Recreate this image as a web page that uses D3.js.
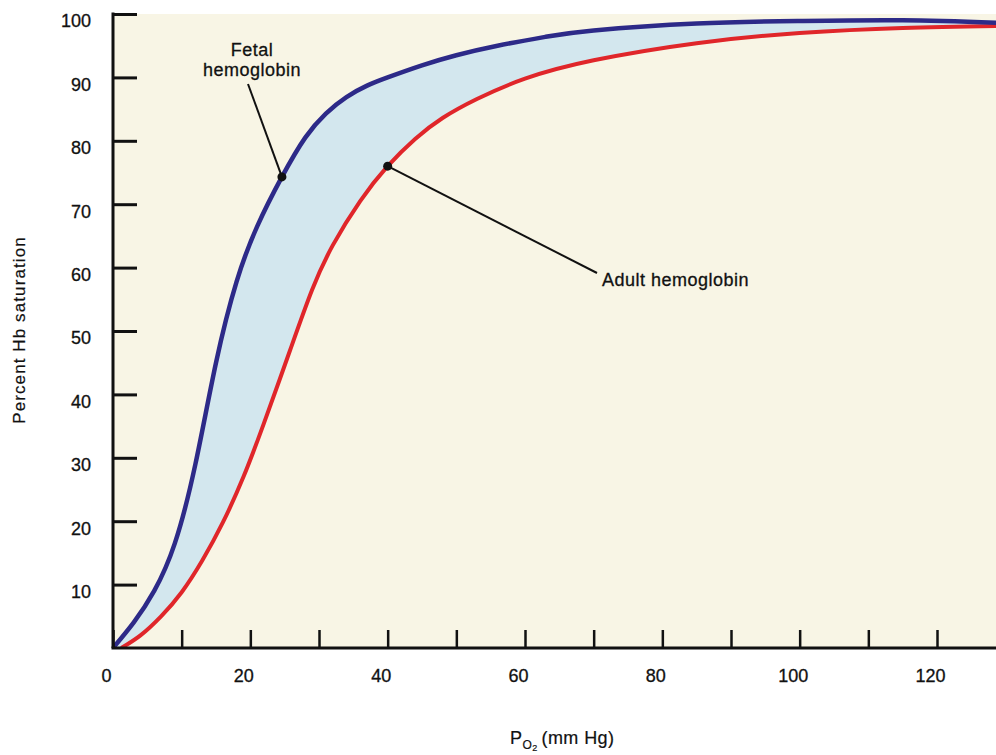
<!DOCTYPE html>
<html>
<head>
<meta charset="utf-8">
<script src="https://d3js.org/d3.v7.min.js"></script>
<style>
  body { margin: 0; background: #fff; }
  text { font-family: "Liberation Sans", Arial, Helvetica, sans-serif; fill: #111; }
</style>
</head>
<body>
<div id="my_dataviz"></div>
<script>

// values: PO2 (mm Hg) and percent saturation
var fetalPO2 = [0, 3, 6, 9, 12, 15, 18, 21, 24.6, 28, 31, 34, 37, 40, 45, 50, 56, 63, 70, 85, 100, 115, 128.7];
var fetalSat = [0, 4, 9, 16.5, 29, 45, 57.8, 66.5, 74.3, 80.5, 84.3, 86.9, 88.7, 90, 91.9, 93.5, 95, 96.4, 97.4, 98.5, 98.9, 99, 98.6];

var adultPO2 = [1.2, 4, 7, 10, 13, 16, 19, 22, 25.8, 29, 32, 36, 40, 44, 48, 53, 60, 70, 85, 100, 115, 128.7];
var adultSat = [0, 2, 5, 8.8, 13.8, 19.8, 27, 35.5, 47, 56.5, 63.5, 70.5, 76, 80.3, 83.6, 86.6, 89.8, 92.7, 95.4, 97, 97.8, 98.1];

var xTicks = [0, 10, 20, 30, 40, 50, 60, 70, 80, 90, 100, 110, 120];
var yTicks = [10, 20, 30, 40, 50, 60, 70, 80, 90, 100];

// labelled points
var fetalMark = {po2: 24.6, sat: 74.3, label: ["Fetal", "hemoglobin"]};
var adultMark = {po2: 40, sat: 76, label: "Adult hemoglobin"};

var width = 996, height = 755;
var bg = "#f8f5e5";

var svg = d3.select("#my_dataviz")
  .append("svg")
    .attr("width", width)
    .attr("height", height);

var x = d3.scaleLinear().domain([0, 120]).range([113, 937]);
var y = d3.scaleLinear().domain([0, 100]).range([648, 14]);

// plot background
svg.append("rect")
    .attr("x", x(0))
    .attr("y", y(100))
    .attr("width", width - x(0))
    .attr("height", y(0) - y(100))
    .style("fill", bg);

svg.append("clipPath").attr("id", "plotclip")
  .append("rect")
    .attr("x", x(0))
    .attr("y", y(100))
    .attr("width", width - x(0))
    .attr("height", y(0) - y(100));

var fetal = fetalPO2.map(function(d, i) { return [d, fetalSat[i]]; });
var adult = adultPO2.map(function(d, i) { return [d, adultSat[i]]; });

var line = d3.line()
    .x(function(d) { return x(d[0]); })
    .y(function(d) { return y(d[1]); })
    .curve(d3.curveNatural);

var area = d3.area()
    .x(function(d) { return x(d[0]); })
    .y0(y(0))
    .y1(function(d) { return y(d[1]); })
    .curve(d3.curveNatural);

var g = svg.append("g").attr("clip-path", "url(#plotclip)");

// band between the two curves: blue under fetal, background under adult
g.append("path")
    .attr("d", area(fetal))
    .style("fill", "#d3e7ee");
g.append("path")
    .attr("d", area(adult))
    .style("fill", bg);

g.append("path")
    .attr("d", line(adult))
    .attr("fill", "none")
    .attr("stroke", "#e0262a")
    .attr("stroke-width", 4);

g.append("path")
    .attr("d", line(fetal))
    .attr("fill", "none")
    .attr("stroke", "#2d2a88")
    .attr("stroke-width", 4.5);

// Y axis
var yAxis = svg.append("g")
    .attr("transform", "translate(" + x(0) + ",0)")
    .call(d3.axisLeft(y).tickValues(yTicks).tickSizeInner(-24).tickSizeOuter(0).tickPadding(22));
yAxis.selectAll("line").attr("stroke", "#111").attr("stroke-width", 3);
yAxis.select(".domain").attr("stroke", "#111").attr("stroke-width", 3)
    .attr("d", "M0," + (y(100) - 1.5) + "V" + y(0));
yAxis.selectAll("text")
    .attr("dy", "0.72em")
    .style("font-size", "18px")
    .style("font-family", "'Liberation Sans', Arial, sans-serif")
    .attr("fill", "#111")
    .attr("stroke", "#111").attr("stroke-width", 0.3);

// X axis
var xAxis = svg.append("g")
    .attr("transform", "translate(0," + y(0) + ")")
    .call(d3.axisBottom(x).tickValues(xTicks).tickSizeInner(-18).tickSizeOuter(0).tickPadding(21)
      .tickFormat(function(d) { return d % 20 === 0 ? d : ""; }));
xAxis.selectAll("line").attr("stroke", "#111").attr("stroke-width", 2.5);
xAxis.select(".domain").attr("stroke", "#111").attr("stroke-width", 3)
    .attr("d", "M" + (x(0) - 1.5) + ",0H" + width);
xAxis.selectAll("text")
    .attr("dx", -7)
    .style("font-size", "18px")
    .style("font-family", "'Liberation Sans', Arial, sans-serif")
    .attr("fill", "#111")
    .attr("stroke", "#111").attr("stroke-width", 0.3);

// axis titles
svg.append("text")
    .attr("transform", "translate(25,330) rotate(-90)")
    .style("text-anchor", "middle")
    .style("font-size", "17px")
    .style("letter-spacing", "1.1px")
    .attr("stroke", "#111").attr("stroke-width", 0.2)
    .text("Percent Hb saturation");

var xt = svg.append("text")
    .attr("x", 510)
    .attr("y", 744)
    .style("font-size", "18px")
    .style("letter-spacing", "0.4px")
    .attr("stroke", "#111").attr("stroke-width", 0.2);
xt.append("tspan").text("P");
xt.append("tspan").attr("dy", 5).style("font-size", "12px").text("O");
xt.append("tspan").attr("dy", 2).style("font-size", "9px").text("2");
xt.append("tspan").attr("dy", -7).attr("dx", 4).text("(mm Hg)");

// annotations
svg.append("line")
    .attr("x1", 248).attr("y1", 84)
    .attr("x2", x(fetalMark.po2)).attr("y2", y(fetalMark.sat))
    .attr("stroke", "#111").attr("stroke-width", 2);
svg.append("circle")
    .attr("cx", x(fetalMark.po2)).attr("cy", y(fetalMark.sat))
    .attr("r", 4.5).attr("fill", "#111");
svg.append("text")
    .attr("x", 252).attr("y", 56)
    .style("text-anchor", "middle")
    .style("font-size", "18px")
    .style("letter-spacing", "0.5px")
    .attr("stroke", "#111").attr("stroke-width", 0.3)
    .text(fetalMark.label[0]);
svg.append("text")
    .attr("x", 252).attr("y", 76)
    .style("text-anchor", "middle")
    .style("font-size", "18px")
    .style("letter-spacing", "0.5px")
    .attr("stroke", "#111").attr("stroke-width", 0.3)
    .text(fetalMark.label[1]);

svg.append("line")
    .attr("x1", 597).attr("y1", 273)
    .attr("x2", x(adultMark.po2)).attr("y2", y(adultMark.sat))
    .attr("stroke", "#111").attr("stroke-width", 2);
svg.append("circle")
    .attr("cx", x(adultMark.po2)).attr("cy", y(adultMark.sat))
    .attr("r", 4.5).attr("fill", "#111");
svg.append("text")
    .attr("x", 602).attr("y", 286)
    .style("font-size", "18px")
    .style("letter-spacing", "0.5px")
    .attr("stroke", "#111").attr("stroke-width", 0.3)
    .text(adultMark.label);

</script>
</body>
</html>
